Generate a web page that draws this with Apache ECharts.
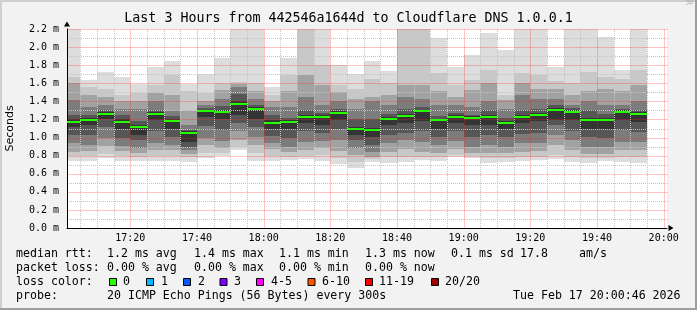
<!DOCTYPE html>
<html><head><meta charset="utf-8">
<script src="https://cdn.jsdelivr.net/npm/echarts@6/dist/echarts.min.js"></script>
<style>html,body{margin:0;padding:0;background:#f2f2f2}#c{width:697px;height:310px}</style>
</head><body><div id="c"></div>
<script>
// ---- data (milliseconds), one entry per 5-minute step ----
const stepStarts = ['17:00','17:05','17:10','17:15','17:20','17:25','17:30','17:35','17:40','17:45',
  '17:50','17:55','18:00','18:05','18:10','18:15','18:20','18:25','18:30','18:35',
  '18:40','18:45','18:50','18:55','19:00','19:05','19:10','19:15','19:20','19:25',
  '19:30','19:35','19:40','19:45','19:50'];
const ping20 = [2.40,1.636,1.725,1.673,1.59,1.784,1.846,1.59,1.70,1.876,2.40,2.40,1.56,1.876,2.40,2.40,1.80,1.70,1.846,1.74,2.40,2.40,2.10,1.78,1.91,2.16,1.97,2.40,2.40,1.78,2.40,2.40,2.11,1.75,2.40];
const ping19 = [1.67,1.56,1.54,1.47,1.49,1.58,1.69,1.52,1.49,1.60,1.61,1.60,1.47,1.69,2.30,1.80,1.58,1.54,1.65,1.60,2.30,2.30,1.71,1.58,1.64,1.75,1.47,1.71,1.69,1.62,1.60,1.73,1.67,1.65,1.75];
const ping17 = [1.60,1.47,1.45,1.40,1.40,1.49,1.47,1.29,1.40,1.53,1.59,1.52,1.40,1.51,1.69,1.58,1.50,1.43,1.45,1.47,1.58,1.58,1.51,1.45,1.53,1.60,1.42,1.60,1.54,1.54,1.47,1.51,1.54,1.51,1.58];
const ping15 = [1.42,1.34,1.36,1.32,1.32,1.40,1.29,1.14,1.36,1.43,1.56,1.43,1.34,1.34,1.45,1.36,1.40,1.32,1.40,1.36,1.45,1.43,1.36,1.36,1.34,1.40,1.32,1.47,1.43,1.43,1.36,1.40,1.36,1.36,1.40];
const ping13 = [1.25,1.25,1.30,1.25,1.18,1.30,1.24,1.08,1.33,1.35,1.48,1.36,1.25,1.22,1.30,1.27,1.32,1.20,1.20,1.26,1.32,1.34,1.24,1.27,1.25,1.30,1.22,1.30,1.32,1.36,1.33,1.30,1.26,1.32,1.30];
const ping11 = [1.20,1.22,1.28,1.20,1.14,1.28,1.21,1.07,1.31,1.30,1.40,1.34,1.19,1.19,1.25,1.25,1.29,1.12,1.11,1.23,1.26,1.31,1.21,1.25,1.24,1.25,1.18,1.25,1.27,1.33,1.31,1.22,1.22,1.30,1.28];
const median = [1.175,1.194,1.26,1.175,1.117,1.26,1.186,1.05,1.297,1.286,1.374,1.32,1.164,1.175,1.227,1.227,1.275,1.095,1.087,1.205,1.238,1.293,1.194,1.227,1.216,1.227,1.161,1.227,1.249,1.304,1.286,1.194,1.194,1.286,1.264];
const ping10 = [1.12,1.14,1.20,1.10,1.03,1.19,1.10,0.95,1.23,1.20,1.25,1.21,1.10,1.10,1.16,1.14,1.19,1.03,1.01,1.14,1.16,1.18,1.10,1.16,1.14,1.14,1.10,1.16,1.18,1.19,1.19,1.10,1.10,1.19,1.17];
const ping8  = [1.03,1.03,1.12,1.00,0.97,1.07,1.01,0.90,1.13,1.08,1.16,1.12,1.02,0.99,1.07,1.05,1.09,0.97,0.92,1.03,1.05,1.07,1.01,1.07,1.01,1.03,1.01,1.04,1.05,1.14,1.07,1.01,0.99,1.08,1.06];
const ping6  = [0.94,0.92,1.00,0.91,0.88,0.94,0.92,0.86,1.00,0.96,1.07,1.01,0.94,0.90,0.95,0.96,0.97,0.88,0.84,0.94,0.97,0.95,0.92,0.96,0.90,0.92,0.90,0.94,0.94,1.03,0.97,0.90,0.90,0.95,0.95];
const ping4  = [0.84,0.85,0.91,0.85,0.83,0.86,0.86,0.82,0.92,0.88,0.97,0.92,0.87,0.84,0.86,0.88,0.85,0.81,0.79,0.84,0.87,0.84,0.83,0.87,0.83,0.83,0.83,0.84,0.85,0.92,0.86,0.82,0.82,0.86,0.86];
const ping2  = [0.80,0.80,0.82,0.80,0.79,0.80,0.80,0.79,0.83,0.83,0.90,0.83,0.80,0.79,0.80,0.81,0.77,0.73,0.76,0.78,0.79,0.78,0.78,0.81,0.80,0.77,0.77,0.78,0.79,0.81,0.79,0.77,0.77,0.79,0.79];
const ping1  = [0.744,0.744,0.777,0.744,0.744,0.744,0.744,0.733,0.77,0.796,0.862,0.744,0.744,0.755,0.766,0.744,0.711,0.667,0.726,0.72,0.726,0.752,0.74,0.789,0.777,0.722,0.733,0.74,0.752,0.763,0.733,0.722,0.74,0.73,0.722];
const timeTickLabels = ['17:20','17:40','18:00','18:20','18:40','19:00','19:20','19:40','20:00'];
const rangeStart = '17:01', rangeEnd = '20:01';
const statRtt = ['median rtt:','1.2 ms avg','1.4 ms max','1.1 ms min','1.3 ms now','0.1 ms sd','17.8','am/s'];
const statLoss = ['packet loss:','0.00 % avg','0.00 % max','0.00 % min','0.00 % now'];
const lossLabels = ['0','1','2','3','4-5','6-10','11-19','20/20'];
const lossColors = ['#26ff00','#00b8ff','#0059ff','#7e00ff','#ff00ff','#ff5500','#ff0000','#a10000'];
const probeText = ['probe:','20 ICMP Echo Pings (56 Bytes) every 300s','Tue Feb 17 20:00:46 2026'];
const titleText = 'Last 3 Hours from 442546a1644d to Cloudflare DNS 1.0.0.1';

// ---- helpers ----
const toMin = s => { const [h, m] = s.split(':').map(Number); return h * 60 + m; };
const fmt = v => { const h = Math.floor(v / 60), m = Math.round(v - h * 60); return String(h).padStart(2,'0') + ':' + String(m).padStart(2,'0'); };
const starts = stepStarts.map(toMin);
const xMin = toMin(rangeStart), xMax = toMin(rangeEnd);
const labelSet = new Set(timeTickLabels);
const MONO = 'DejaVu Sans Mono';
const MAJOR = 'rgba(255,40,40,0.27)';
const MINOR = '#c4c4c4';

function bandSeries(lo, hi, color) {
  return {
    type: 'custom', z: 2, silent: true,
    data: starts.map((t, i) => [t, t + 5, lo[i], hi[i]]),
    encode: { x: [0, 1], y: [2, 3] },
    renderItem: (params, api) => {
      const a = api.coord([api.value(0), api.value(3)]);
      const b = api.coord([api.value(1), api.value(2)]);
      const cs = params.coordSys;
      const x0 = Math.round(a[0]), x1 = Math.round(b[0]);
      const y0 = Math.round(a[1]), y1 = Math.round(b[1]);
      const shape = echarts.graphic.clipRectByRect(
        { x: x0, y: y0, width: x1 - x0, height: y1 - y0 },
        { x: cs.x, y: cs.y, width: cs.width, height: cs.height });
      return shape ? { type: 'rect', shape, style: { fill: color } } : null;
    }
  };
}

// grid positions (axis decoration): every 5 minutes, every 0.1 ms
const vGrid = [];
for (let v = Math.ceil(xMin / 5) * 5; v < xMax; v += 5) vGrid.push([v]);
const hGrid = [];
for (let k = 1; k <= 22; k++) hGrid.push([k / 10, k % 2 === 0 ? 1 : 0]);

const series = [
  bandSeries(ping1, ping20, '#dddddd'),
  bandSeries(ping2, ping19, '#c8c8c8'),
  bandSeries(ping4, ping17, '#a2a2a2'),
  bandSeries(ping6, ping15, '#7c7c7c'),
  bandSeries(ping8, ping13, '#565656'),
  bandSeries(ping10, ping11, '#343434'),
  {
    type: 'custom', z: 4, silent: true,
    data: vGrid, encode: { x: 0 },
    renderItem: (params, api) => {
      const v = api.value(0);
      const a = api.coord([v, 0]);
      const cs = params.coordSys;
      const x = Math.round(a[0]) + 0.5;
      const major = Math.abs(v % 20) < 1e-6;
      return { type: 'line', shape: { x1: x, y1: cs.y, x2: x, y2: cs.y + cs.height },
        style: { stroke: major ? MAJOR : MINOR, lineWidth: 1, lineDash: major ? null : [1, 1], fill: null } };
    }
  },
  {
    type: 'custom', z: 4, silent: true,
    data: hGrid, encode: { y: 0 },
    renderItem: (params, api) => {
      const v = api.value(0);
      const a = api.coord([xMin, v]);
      const cs = params.coordSys;
      const y = Math.round(a[1]) + 0.5;
      const major = api.value(1) === 1;
      return { type: 'line', shape: { x1: cs.x, y1: y, x2: cs.x + cs.width + 1, y2: y },
        style: { stroke: major ? MAJOR : MINOR, lineWidth: 1, lineDash: major ? null : [1, 1], fill: null } };
    }
  },
  {
    type: 'custom', z: 6, silent: true,
    data: starts.map((t, i) => [t, t + 5, median[i]]),
    encode: { x: [0, 1], y: 2 },
    renderItem: (params, api) => {
      const a = api.coord([api.value(0), api.value(2)]);
      const b = api.coord([api.value(1), api.value(2)]);
      const cs = params.coordSys;
      const x0 = Math.round(a[0]), x1 = Math.round(b[0]);
      const y = Math.round(a[1]) - 1;
      const shape = echarts.graphic.clipRectByRect(
        { x: x0, y: y, width: x1 - x0, height: 2 },
        { x: cs.x, y: cs.y, width: cs.width, height: cs.height });
      return shape ? { type: 'rect', shape, style: { fill: lossColors[0] } } : null;
    }
  }
];

// ---- legend / text graphics ----
const graphics = [
  { type: 'rect', shape: { x: 0, y: 0, width: 697, height: 2 }, style: { fill: '#cfcfcf' }, silent: true },
  { type: 'rect', shape: { x: 0, y: 0, width: 2, height: 310 }, style: { fill: '#cfcfcf' }, silent: true },
  { type: 'rect', shape: { x: 0, y: 308, width: 697, height: 2 }, style: { fill: '#9e9e9e' }, silent: true },
  { type: 'rect', shape: { x: 695, y: 0, width: 2, height: 310 }, style: { fill: '#9e9e9e' }, silent: true },
  { type: 'text', x: 688, y: 5, rotation: -Math.PI / 2, silent: true,
    style: { text: 'RRDTOOL / TOBI OETIKER', font: '8.4px "DejaVu Sans Mono"', fill: '#b4b4b4', align: 'right', verticalAlign: 'middle' } }
];
function addText(x, y, t) {
  graphics.push({ type: 'text', x, y, silent: true,
    style: { text: t, font: '11.6px "DejaVu Sans Mono"', fill: '#000', align: 'left', verticalAlign: 'middle' } });
}
const rttX = [16, 107, 194, 279, 365, 451, 520, 579];
statRtt.forEach((t, i) => addText(rttX[i], 254, t));
statLoss.forEach((t, i) => addText(rttX[i], 268, t));
addText(16, 282, 'loss color:');
const boxX = [109, 146, 183, 219.5, 256, 307.5, 365, 431];
const lblX = [123, 161, 198, 234, 271, 322, 379, 445];
lossLabels.forEach((t, i) => {
  graphics.push({ type: 'rect', silent: true, shape: { x: boxX[i] + 0.5, y: 278.5, width: 7, height: 7 },
    style: { fill: lossColors[i], stroke: '#000', lineWidth: 1 } });
  addText(lblX[i], 282, t);
});
addText(16, 296, probeText[0]);
addText(107, 296, probeText[1]);
addText(513, 296, probeText[2]);

const chart = echarts.init(document.getElementById('c'), null, { renderer: 'canvas' });
chart.setOption({
  animation: false,
  backgroundColor: '#f2f2f2',
  title: { text: titleText, left: 'center', top: 12, padding: 0,
    textStyle: { fontFamily: MONO, fontSize: 13.3, fontWeight: 'normal', color: '#000' } },
  grid: { left: 67, right: 30, top: 29, bottom: 82, show: true, backgroundColor: '#ffffff', borderWidth: 0,
    containLabel: false, outerBoundsMode: 'none' },
  xAxis: {
    type: 'value', min: xMin, max: xMax, minInterval: 20, maxInterval: 20, splitNumber: 9, z: 5,
    axisLine: { show: true, onZero: false, lineStyle: { color: '#000', width: 1 },
      symbol: ['none', 'triangle'], symbolSize: [6, 5], symbolOffset: [0, 4] },
    axisTick: { show: false },
    splitLine: { show: false },
    axisLabel: { show: true, margin: 5, color: '#000', fontFamily: MONO, fontSize: 10,
      showMinLabel: false, showMaxLabel: false,
      formatter: v => { const s = fmt(v); return labelSet.has(s) && Math.abs(v % 20) < 1e-6 ? s : ''; } }
  },
  yAxis: {
    type: 'value', min: 0, max: 2.2, interval: 0.2, z: 5,
    name: 'Seconds', nameLocation: 'middle', nameRotate: 90, nameGap: 51,
    nameTextStyle: { fontFamily: 'DejaVu Sans', fontSize: 11, color: '#000' },
    axisLine: { show: true, lineStyle: { color: '#000', width: 1 },
      symbol: ['none', 'triangle'], symbolSize: [6, 5], symbolOffset: [0, 5] },
    axisTick: { show: false },
    axisLabel: { margin: 8, color: '#000', fontFamily: MONO, fontSize: 10, formatter: v => v.toFixed(1) + ' m' },
    splitLine: { show: false },
    minorSplitLine: { show: false }
  },
  series,
  graphic: graphics
});
</script></body></html>
